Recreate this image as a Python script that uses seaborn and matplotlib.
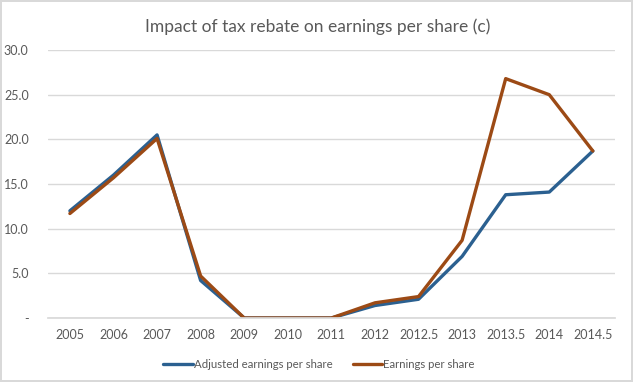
import pandas as pd
import matplotlib
matplotlib.use("Agg")
import matplotlib.pyplot as plt
import seaborn as sns

# --- data ---
periods = ["2005", "2006", "2007", "2008", "2009", "2010", "2011",
           "2012", "2012.5", "2013", "2013.5", "2014", "2014.5"]
adjusted_eps = [12.0, 16.0, 20.5, 4.2, 0.0, 0.0, 0.0, 1.4, 2.1, 6.9, 13.8, 14.1, 18.7]
reported_eps = [11.7, 15.7, 20.1, 4.7, 0.0, 0.0, 0.0, 1.7, 2.4, 8.7, 26.8, 25.0, 18.7]
series_names = ["Adjusted earnings per share", "Earnings per share"]
y_ticks = [0, 5, 10, 15, 20, 25, 30]
y_tick_labels = ["-", "5.0", "10.0", "15.0", "20.0", "25.0", "30.0"]

df = pd.concat([
    pd.DataFrame({"period": periods, "eps": adjusted_eps, "series": series_names[0]}),
    pd.DataFrame({"period": periods, "eps": reported_eps, "series": series_names[1]}),
])

sns.set_theme(style="white")
plt.rcParams["font.family"] = ["Lato", "DejaVu Sans"]

fig = plt.figure(figsize=(6.33, 3.82), dpi=100)
fig.patch.set_edgecolor("#d9d9d9")
fig.patch.set_linewidth(1.5)
ax = fig.add_axes([0.076, 0.1675, 0.895, 0.7015])

sns.lineplot(data=df, x="period", y="eps", hue="series", sort=False,
             palette=["#2b6090", "#9c4a15"], linewidth=2.4, ax=ax)

ax.set_xlim(-0.5, len(periods) - 0.5)
ax.set_ylim(0, 30)
ax.set_yticks(y_ticks)
ax.set_yticklabels(y_tick_labels)
ax.yaxis.grid(True, color="#d9d9d9", linewidth=1)
ax.xaxis.grid(False)
for side in ["top", "right", "left"]:
    ax.spines[side].set_visible(False)
ax.spines["bottom"].set_color("#d9d9d9")
ax.tick_params(axis="both", length=0, labelsize=9, colors="#595959", pad=8)
ax.tick_params(axis="y", pad=14)
ax.set_xlabel("")
ax.set_ylabel("")

# title is centred on the whole chart, not the plot area
ax.set_title("Impact of tax rebate on earnings per share (c)",
             fontsize=12.5, color="#595959", pad=13, x=0.475)

handles, labels = ax.get_legend_handles_labels()
ax.legend(handles, labels, loc="upper center", bbox_to_anchor=(0.478, -0.115),
          ncol=2, frameon=False, fontsize=8.2, handlelength=2.6,
          handletextpad=0.05, columnspacing=1.8, labelcolor="#595959")

fig.savefig("out.png", dpi=100)
